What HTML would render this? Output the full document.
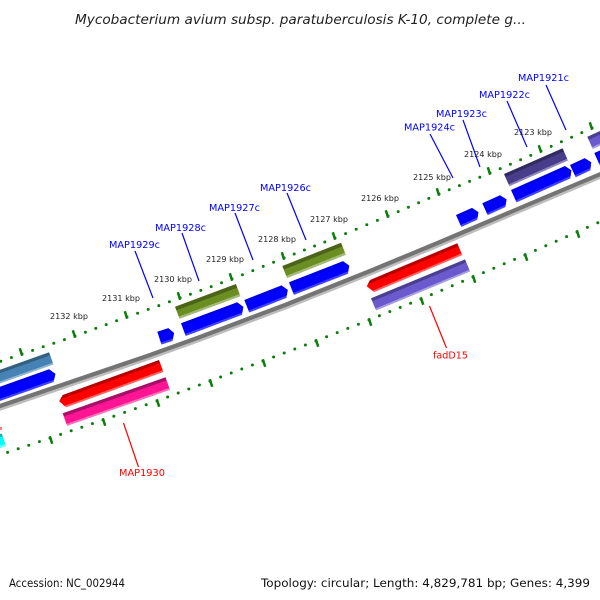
<!DOCTYPE html>
<html><head><meta charset="utf-8"><style>
html,body{margin:0;padding:0;background:#fff;width:600px;height:600px;overflow:hidden}
svg{display:block}
text{font-family:"DejaVu Sans","Liberation Sans",sans-serif}
.k{font-size:8px;fill:#222}
.b{font-size:10px;fill:#0000ff}
.r{font-size:10px;fill:#ff0000}
.f{font-size:11.5px;fill:#111}
.d line{stroke:#0a7d0a;stroke-width:3;stroke-linecap:round;stroke-dasharray:0 1}
</style></head><body>
<svg width="600" height="600" viewBox="0 0 600 600" xmlns="http://www.w3.org/2000/svg">
<defs>
<linearGradient id="blue" x1="0" y1="0" x2="0" y2="1"><stop offset="0" stop-color="#0000e4"/><stop offset=".2" stop-color="#0000e4"/><stop offset=".2" stop-color="#0000ff"/><stop offset=".84" stop-color="#0000ff"/><stop offset=".84" stop-color="#4040ff"/><stop offset="1" stop-color="#4040ff"/></linearGradient>
<linearGradient id="red" x1="0" y1="0" x2="0" y2="1"><stop offset="0" stop-color="#b80000"/><stop offset=".25" stop-color="#b80000"/><stop offset=".25" stop-color="#ff0000"/><stop offset=".85" stop-color="#ff0000"/><stop offset=".85" stop-color="#ff6060"/><stop offset="1" stop-color="#ff6060"/></linearGradient>
<linearGradient id="pink" x1="0" y1="0" x2="0" y2="1"><stop offset="0" stop-color="#a80f68"/><stop offset=".25" stop-color="#a80f68"/><stop offset=".25" stop-color="#ff1493"/><stop offset=".85" stop-color="#ff1493"/><stop offset=".85" stop-color="#ff70b8"/><stop offset="1" stop-color="#ff70b8"/></linearGradient>
<linearGradient id="olive" x1="0" y1="0" x2="0" y2="1"><stop offset="0" stop-color="#4b6418"/><stop offset=".3" stop-color="#4b6418"/><stop offset=".3" stop-color="#6b8e23"/><stop offset=".82" stop-color="#6b8e23"/><stop offset=".82" stop-color="#a3b97a"/><stop offset="1" stop-color="#a3b97a"/></linearGradient>
<linearGradient id="steel" x1="0" y1="0" x2="0" y2="1"><stop offset="0" stop-color="#316080"/><stop offset=".25" stop-color="#316080"/><stop offset=".25" stop-color="#4682b4"/><stop offset=".85" stop-color="#4682b4"/><stop offset=".85" stop-color="#8fb4d2"/><stop offset="1" stop-color="#8fb4d2"/></linearGradient>
<linearGradient id="dslate" x1="0" y1="0" x2="0" y2="1"><stop offset="0" stop-color="#322b61"/><stop offset=".25" stop-color="#322b61"/><stop offset=".25" stop-color="#483d8b"/><stop offset=".85" stop-color="#483d8b"/><stop offset=".85" stop-color="#8d86b8"/><stop offset="1" stop-color="#8d86b8"/></linearGradient>
<linearGradient id="slate" x1="0" y1="0" x2="0" y2="1"><stop offset="0" stop-color="#4a3f90"/><stop offset=".25" stop-color="#4a3f90"/><stop offset=".25" stop-color="#6a5acd"/><stop offset=".85" stop-color="#6a5acd"/><stop offset=".85" stop-color="#a59bdf"/><stop offset="1" stop-color="#a59bdf"/></linearGradient>
<linearGradient id="cyan" x1="0" y1="0" x2="0" y2="1"><stop offset="0" stop-color="#00b2b2"/><stop offset=".22" stop-color="#00b2b2"/><stop offset=".22" stop-color="#00ffff"/><stop offset=".82" stop-color="#00ffff"/><stop offset=".82" stop-color="#66ffff"/><stop offset="1" stop-color="#66ffff"/></linearGradient>
</defs>

<text x="75" y="24" font-size="13" font-style="italic" fill="#222" textLength="451" lengthAdjust="spacingAndGlyphs">Mycobacterium avium subsp. paratuberculosis K-10, complete g...</text>

<!-- backbone -->
<polyline fill="none" stroke="#bdbdbd" stroke-width="3.5" points="-10,412.5 0,409 100,375 150,358 200,340 285,308 370,274 440,245 520,211 610,173"/>
<polyline fill="none" stroke="#747474" stroke-width="4.2" points="-10,409.5 0,406 100,372 150,355 200,337 285,305 370,271 440,242 520,208 610,170"/>

<!-- upper track dots -->
<g class="d">
<line pathLength="5" x1="-31" y1="372" x2="22" y2="354"/>
<line pathLength="5" x1="22" y1="354" x2="75" y2="336"/>
<line pathLength="5" x1="75" y1="336" x2="127" y2="317"/>
<line pathLength="5" x1="127" y1="317" x2="180" y2="298"/>
<line pathLength="5" x1="180" y1="298" x2="232" y2="279"/>
<line pathLength="5" x1="232" y1="279" x2="284" y2="258"/>
<line pathLength="5" x1="284" y1="258" x2="335" y2="238"/>
<line pathLength="5" x1="335" y1="238" x2="388" y2="216"/>
<line pathLength="5" x1="388" y1="216" x2="439" y2="194"/>
<line pathLength="5" x1="439" y1="194" x2="490" y2="173"/>
<line pathLength="5" x1="490" y1="173" x2="541" y2="151"/>
<line pathLength="5" x1="541" y1="151" x2="592" y2="128"/>
<line pathLength="5" x1="592" y1="128" x2="643" y2="106"/>
<!-- lower track dots -->
<line pathLength="5" x1="-3" y1="456" x2="50" y2="438"/>
<line pathLength="5" x1="50" y1="438" x2="103" y2="420"/>
<line pathLength="5" x1="103" y1="420" x2="157" y2="401"/>
<line pathLength="5" x1="157" y1="401" x2="210" y2="381"/>
<line pathLength="5" x1="210" y1="381" x2="263" y2="361"/>
<line pathLength="5" x1="263" y1="361" x2="316" y2="341"/>
<line pathLength="5" x1="316" y1="341" x2="369" y2="320"/>
<line pathLength="5" x1="369" y1="320" x2="421" y2="299"/>
<line pathLength="5" x1="421" y1="299" x2="473" y2="277"/>
<line pathLength="5" x1="473" y1="277" x2="525" y2="255"/>
<line pathLength="5" x1="525" y1="255" x2="577" y2="232"/>
<line pathLength="5" x1="577" y1="232" x2="629" y2="209"/>
</g>
<!-- ticks -->
<path fill="none" stroke="#0a7d0a" stroke-width="2.5" d="M19.8 348.3l2.4 7.4M72.8 330.3l2.4 7.4M124.8 311.3l2.4 7.4M177.8 292.3l2.4 7.4M229.8 273.3l2.4 7.4M281.8 252.3l2.4 7.4M332.8 232.3l2.4 7.4M385.8 210.3l2.4 7.4M436.8 188.3l2.4 7.4M487.8 167.3l2.4 7.4M538.8 145.3l2.4 7.4M589.8 122.3l2.4 7.4M49.8 436.3l2.4 7.4M102.8 418.3l2.4 7.4M156.8 399.3l2.4 7.4M209.8 379.3l2.4 7.4M262.8 359.3l2.4 7.4M315.8 339.3l2.4 7.4M368.8 318.3l2.4 7.4M420.8 297.3l2.4 7.4M472.8 275.3l2.4 7.4M524.8 253.3l2.4 7.4M576.8 230.3l2.4 7.4"/>

<!-- genes: upper strand row -->
<g transform="translate(-15 375) rotate(-19.5)"><rect width="68" height="13" fill="url(#steel)"/></g>
<g transform="translate(175 306.7) rotate(-20.4)"><rect width="65" height="13" fill="url(#olive)"/></g>
<g transform="translate(282.3 266) rotate(-21.6)"><rect width="63.2" height="13" fill="url(#olive)"/></g>
<g transform="translate(504 174) rotate(-23.7)"><rect width="64" height="13.4" fill="url(#dslate)"/></g>
<g transform="translate(587.3 136.7) rotate(-24)"><rect width="30" height="13.4" fill="url(#slate)"/></g>

<!-- blue arrows -->
<g transform="translate(-15 392) rotate(-19.5)"><polygon points="0,0 68,0 72.5,6.5 68,13.5 0,13.5" fill="url(#blue)"/></g>
<g transform="translate(157.3 331.7) rotate(-18)"><polygon points="0,0 11.6,0 15.6,6.5 11.6,13.5 0,13.5" fill="url(#blue)"/></g>
<g transform="translate(181 323.3) rotate(-20.5)"><polygon points="0,0 60,0 64.2,6.5 60,13.5 0,13.5" fill="url(#blue)"/></g>
<g transform="translate(244.3 300) rotate(-21.5)"><polygon points="0,0 40,0 44.2,6.5 40,13.5 0,13.5" fill="url(#blue)"/></g>
<g transform="translate(289 282.3) rotate(-21.4)"><polygon points="0,0 58,0 62.2,6.5 58,13.5 0,13.5" fill="url(#blue)"/></g>
<g transform="translate(456 215) rotate(-24)"><polygon points="0,0 17.5,0 21.7,6.5 17.5,13 0,13" fill="url(#blue)"/></g>
<g transform="translate(482.3 203.3) rotate(-24.5)"><polygon points="0,0 19.5,0 23.7,6.5 19.5,13 0,13" fill="url(#blue)"/></g>
<g transform="translate(511 190) rotate(-24)"><polygon points="0,0 59,0 63.2,6.5 59,13.5 0,13.5" fill="url(#blue)"/></g>
<g transform="translate(570 165) rotate(-25)"><polygon points="0,0 16.2,0 20.4,6.5 16.2,13.5 0,13.5" fill="url(#blue)"/></g>
<g transform="translate(594.3 153) rotate(-24)"><rect width="30" height="13.5" fill="url(#blue)"/></g>

<!-- lower strand -->
<g transform="translate(62.7 395) rotate(-20)"><polygon points="0,0 102.5,0 102.5,12.8 -1,12.8 -5.4,4.5" fill="url(#red)"/></g>
<g transform="translate(62.7 413.3) rotate(-19.3)"><rect width="109" height="13.3" fill="url(#pink)"/></g>
<g transform="translate(370 280) rotate(-22.8)"><polygon points="0,0 94.7,0 94.7,12.8 -1,12.8 -5.4,4.5" fill="url(#red)"/></g>
<g transform="translate(371 298.3) rotate(-22.5)"><rect width="101.8" height="13.2" fill="url(#slate)"/></g>
<g transform="translate(-20 441) rotate(-19)"><rect width="23" height="13.3" fill="url(#cyan)"/></g>
<rect x="0" y="427" width="2" height="3" fill="#ff8080"/>

<!-- leader lines -->
<g stroke="#0000ff" stroke-width="1.2" fill="none">
<line x1="546" y1="85" x2="566" y2="130"/>
<line x1="507" y1="101" x2="527" y2="147"/>
<line x1="463" y1="120" x2="480" y2="167"/>
<line x1="430" y1="134" x2="453" y2="178"/>
<line x1="287" y1="193" x2="306" y2="240"/>
<line x1="235" y1="213" x2="253" y2="260"/>
<line x1="182" y1="233" x2="199" y2="281"/>
<line x1="135" y1="251" x2="153" y2="298"/>
</g>
<g stroke="#ff0000" stroke-width="1.2" fill="none">
<line x1="123.5" y1="423" x2="138.5" y2="467"/>
<line x1="429.5" y1="306" x2="446.5" y2="348"/>
</g>

<!-- kbp labels -->
<text class="k" x="50" y="319" textLength="38" lengthAdjust="spacingAndGlyphs">2132 kbp</text>
<text class="k" x="102" y="301" textLength="38" lengthAdjust="spacingAndGlyphs">2131 kbp</text>
<text class="k" x="154" y="282" textLength="38" lengthAdjust="spacingAndGlyphs">2130 kbp</text>
<text class="k" x="206" y="262" textLength="38" lengthAdjust="spacingAndGlyphs">2129 kbp</text>
<text class="k" x="258" y="242" textLength="38" lengthAdjust="spacingAndGlyphs">2128 kbp</text>
<text class="k" x="310" y="222" textLength="38" lengthAdjust="spacingAndGlyphs">2127 kbp</text>
<text class="k" x="361" y="201" textLength="38" lengthAdjust="spacingAndGlyphs">2126 kbp</text>
<text class="k" x="413" y="180" textLength="38" lengthAdjust="spacingAndGlyphs">2125 kbp</text>
<text class="k" x="464" y="157" textLength="38" lengthAdjust="spacingAndGlyphs">2124 kbp</text>
<text class="k" x="514" y="135" textLength="38" lengthAdjust="spacingAndGlyphs">2123 kbp</text>

<!-- gene labels -->
<text class="b" x="518" y="81" textLength="51" lengthAdjust="spacingAndGlyphs">MAP1921c</text>
<text class="b" x="479" y="98" textLength="51" lengthAdjust="spacingAndGlyphs">MAP1922c</text>
<text class="b" x="436" y="117" textLength="51" lengthAdjust="spacingAndGlyphs">MAP1923c</text>
<text class="b" x="404" y="130.5" textLength="51" lengthAdjust="spacingAndGlyphs">MAP1924c</text>
<text class="b" x="260" y="191" textLength="51" lengthAdjust="spacingAndGlyphs">MAP1926c</text>
<text class="b" x="209" y="211" textLength="51" lengthAdjust="spacingAndGlyphs">MAP1927c</text>
<text class="b" x="155" y="231" textLength="51" lengthAdjust="spacingAndGlyphs">MAP1928c</text>
<text class="b" x="109" y="248" textLength="51" lengthAdjust="spacingAndGlyphs">MAP1929c</text>
<text class="r" x="119" y="476" textLength="46" lengthAdjust="spacingAndGlyphs">MAP1930</text>
<text class="r" x="433" y="358.5" textLength="35" lengthAdjust="spacingAndGlyphs">fadD15</text>

<text class="f" x="9" y="587" textLength="116" lengthAdjust="spacingAndGlyphs">Accession: NC_002944</text>
<text class="f" x="261" y="587" textLength="329" lengthAdjust="spacingAndGlyphs">Topology: circular; Length: 4,829,781 bp; Genes: 4,399</text>
</svg>
</body></html>
